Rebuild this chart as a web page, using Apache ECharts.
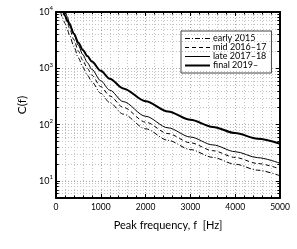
<!DOCTYPE html>
<html><head><meta charset="utf-8">
<script src="https://cdn.jsdelivr.net/npm/echarts@6/dist/echarts.min.js"></script>
<style>html,body{margin:0;padding:0;background:#fff}#c{width:297px;height:249px}</style>
</head><body><div id="c"></div>
<script>
var freq = [100,150,200,250,300,400,500,600,700,800,1000,1200,1500,2000,2500,3000,3500,4000,4500,5000];
var early2015 = [10200,7800,6300,4980,3900,2440,1530,1050,760,574,360,246,154,84.6,52.8,36.2,26.3,19.9,15.6,12.4];
var mid2016 = [13400,10300,8300,6560,5140,3210,2020,1380,1000,755,474,324,203,111,69.5,47.7,34.6,26.2,20.5,16.4];
var late2017 = [17000,13000,10500,8300,6500,4060,2556,1744,1264,956,600,410,257,141,88,60.4,43.8,33.2,26,20.7];
var final2019 = [13000,10500,8600,7200,6000,4100,2850,2120,1650,1320,902,656,441,261,172,122,91.4,70.9,56.5,46];
var seriesNames = ['early 2015','mid 2016\u201317','late 2017\u201318','final 2019\u2013'];
var xTicks = [0,1000,2000,3000,4000,5000];
var yMinor = [6,7,8,9,20,30,40,50,60,70,80,90,200,300,400,500,600,700,800,900,2000,3000,4000,5000,6000,7000,8000,9000];

var FONT = 'Lato';
var widths = [1,1,1,2];
var types = [[5,2,1,2],[4,3],'solid','solid'];
function pairs(ys){ return freq.map(function(f,i){ return [f, ys[i]]; }); }
function mk(i, ys){
  return {name:seriesNames[i], type:'line', data:pairs(ys), symbol:'none', smooth:0.3, smoothMonotone:'x',
    lineStyle:{color:'#000', width:widths[i], type:types[i]}, itemStyle:{color:'#000'}, z:5};
}
var gridLines = [], ticks = [];
yMinor.forEach(function(v){
  gridLines.push({yAxis:v});
  ticks.push([{coord:[0,v]},{coord:[60,v]}]);
  ticks.push([{coord:[4940,v]},{coord:[5000,v]}]);
});
var chart = echarts.init(document.getElementById('c'), null, {renderer:'canvas'});
chart.setOption({
  animation:false,
  textStyle:{fontFamily:FONT},
  grid:{left:56, right:17, top:12, bottom:51},
  legend:{
    data:seriesNames.map(function(n,i){ return {name:n, lineStyle:{width:widths[i], type:types[i], color:'#000'}}; }),
    orient:'vertical', left:181, top:31,
    backgroundColor:'#fff', borderColor:'#444', borderWidth:1, borderRadius:0,
    padding:[3,5,3,3], itemWidth:25, itemHeight:11, itemGap:0,
    itemStyle:{opacity:0},
    textStyle:{fontFamily:FONT, fontSize:9, color:'#000', padding:[0,0,0,-2]}
  },
  xAxis:[{
    type:'value', min:xTicks[0], max:xTicks[xTicks.length-1], interval:1000,
    name:'Peak frequency, f  [Hz]', nameLocation:'middle', nameGap:22,
    nameTextStyle:{fontFamily:FONT, fontSize:11, color:'#000'},
    axisLine:{show:true, onZero:false, lineStyle:{color:'#000', width:2}},
    axisTick:{inside:true, length:4, lineStyle:{color:'#000', width:1}},
    minorTick:{show:true, splitNumber:5, length:2.5, lineStyle:{color:'#000', width:1}},
    axisLabel:{fontFamily:FONT, fontSize:8.5, color:'#000', margin:5, formatter:function(v){return String(v);}},
    splitLine:{show:true, lineStyle:{color:'#aaa', type:[1,2], width:1}},
    minorSplitLine:{show:true, lineStyle:{color:'#c4c4c4', type:[1,2], width:1}}
  },{
    type:'value', min:0, max:5000, interval:1000, position:'top',
    axisLine:{show:true, onZero:false, lineStyle:{color:'#000', width:2}},
    axisTick:{inside:true, length:4, lineStyle:{color:'#000'}},
    minorTick:{show:true, splitNumber:5, length:2.5, lineStyle:{color:'#000'}},
    axisLabel:{show:false}, splitLine:{show:false}
  }],
  yAxis:[{
    type:'log', logBase:10, min:5, max:10000,
    name:'C(f)', nameLocation:'middle', nameGap:18, nameRotate:90,
    nameTextStyle:{fontFamily:FONT, fontSize:12, color:'#000'},
    axisLine:{show:true, onZero:false, lineStyle:{color:'#000', width:2}},
    axisTick:{inside:true, length:4, lineStyle:{color:'#000'}},
    axisLabel:{margin:3, color:'#000', fontFamily:FONT,
      formatter:function(v){
        var e = Math.round(Math.log(v)/Math.LN10);
        if (Math.abs(Math.pow(10,e)-v) > 1e-6*v) return '';
        return '{b|10}{s|' + e + '}';
      },
      rich:{b:{fontSize:9, fontFamily:FONT, color:'#000'}, s:{fontSize:6, fontFamily:FONT, color:'#000', padding:[0,0,7,0]}}},
    splitLine:{show:true, lineStyle:{color:'#aaa', type:[1,2], width:1}}
  },{
    type:'log', logBase:10, min:5, max:10000, position:'right',
    axisLine:{show:true, onZero:false, lineStyle:{color:'#000', width:2}},
    axisTick:{inside:true, length:4, lineStyle:{color:'#000'}},
    axisLabel:{show:false}, splitLine:{show:false}
  }],
  series:[
    mk(0, early2015),
    mk(1, mid2016),
    mk(2, late2017),
    mk(3, final2019),
    {name:'grid', type:'line', data:[], silent:true, z:1,
      markLine:{silent:true, symbol:['none','none'], label:{show:false}, animation:false,
        lineStyle:{color:'#c4c4c4', type:[1,2], width:1}, data:gridLines}},
    {name:'ticks', type:'line', data:[], silent:true, z:6,
      markLine:{silent:true, symbol:['none','none'], label:{show:false}, animation:false,
        lineStyle:{color:'#000', type:'solid', width:1}, data:ticks}}
  ]
});
</script></body></html>
